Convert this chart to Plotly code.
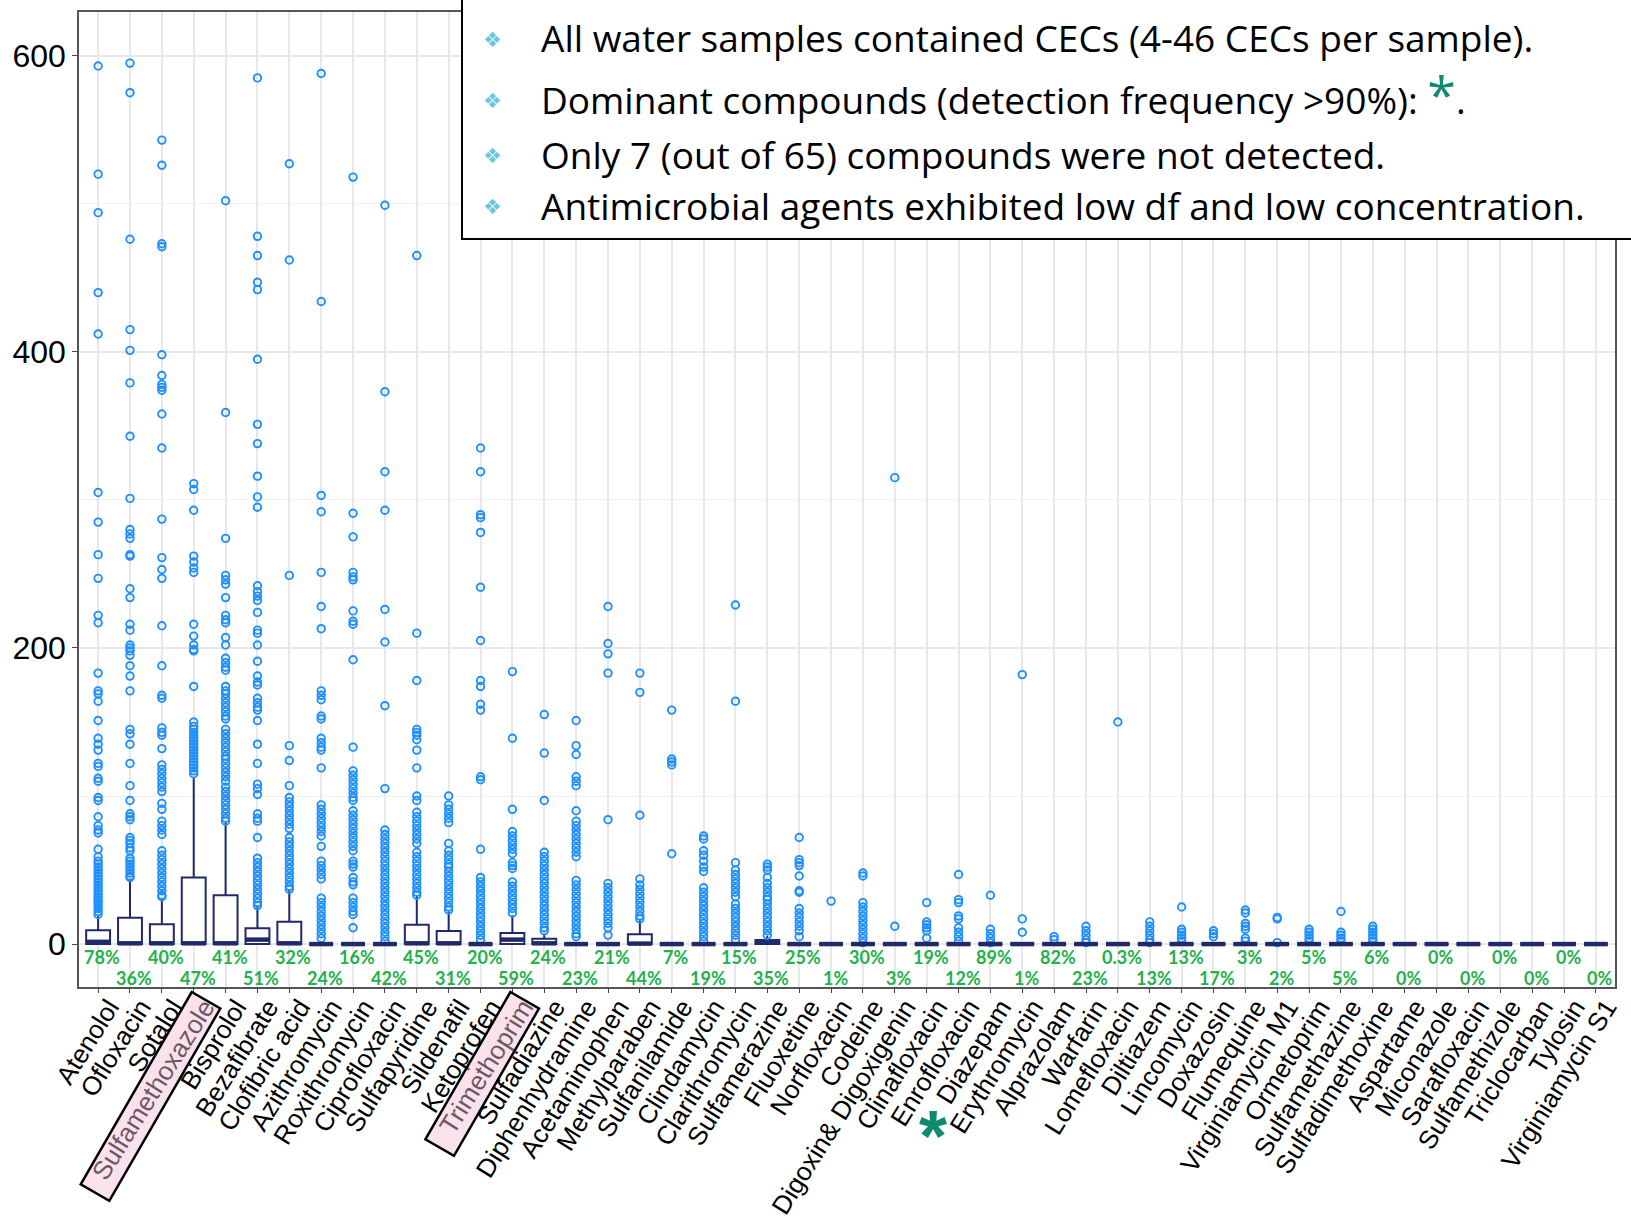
import math
import plotly.graph_objects as go

categories = ["Atenolol", "Ofloxacin", "Sotalol", "Sulfamethoxazole", "Bisprolol", "Bezafibrate",
              "Clofibric acid", "Azithromycin", "Roxithromycin", "Ciprofloxacin", "Sulfapyridine",
              "Sildenafil", "Ketoprofen", "Trimethoprim", "Sulfadiazine", "Diphenhydramine",
              "Acetaminophen", "Methylparaben", "Sulfanilamide", "Clindamycin", "Clarithromycin",
              "Sulfamerazine", "Fluoxetine", "Norfloxacin", "Codeine", "Digoxin& Digoxigenin",
              "Clinafloxacin", "Enrofloxacin", "Diazepam", "Erythromycin", "Alprazolam", "Warfarin",
              "Lomefloxacin", "Diltiazem", "Lincomycin", "Doxazosin", "Flumequine", "Virginiamycin M1",
              "Ormetoprim", "Sulfamethazine", "Sulfadimethoxine", "Aspartame", "Miconazole",
              "Sarafloxacin", "Sulfamethizole", "Triclocarban", "Tylosin", "Virginiamycin S1"]

detection_freq = ["78%", "36%", "40%", "47%", "41%", "51%", "32%", "24%", "16%", "42%", "45%", "31%",
                  "20%", "59%", "24%", "23%", "21%", "44%", "7%", "19%", "15%", "35%", "25%", "1%",
                  "30%", "3%", "19%", "12%", "89%", "1%", "82%", "23%", "0.3%", "13%", "13%", "17%",
                  "3%", "2%", "5%", "5%", "6%", "0%", "0%", "0%", "0%", "0%", "0%", "0%"]

q1 = [0] * 48
median = [1.5, 0.5, 0.5, 0.5, 0.5, 3, 0.5, 0, 0, 0, 0.5, 0.5, 0, 3, 0.5, 0, 0, 0.3, 0, 0, 0, 1,
          0, 0, 0, 0, 0, 0, 0, 0, 0, 0, 0, 0, 0, 0, 0, 0, 0, 0, 0, 0, 0, 0, 0, 0, 0, 0]
q3 = [9.3, 17.8, 13.3, 45, 33, 10.6, 15, 0, 0, 0, 13, 8.8, 0, 7.5, 3.6, 0, 0, 6.6, 0, 0, 0, 2.8,
      0, 0, 0, 0, 0, 0, 0, 0, 0, 0, 0, 0, 0, 0, 0, 0, 0, 0, 0, 0, 0, 0, 0, 0, 0, 0]
lower_fence = [0] * 48
upper_fence = [19.4, 44, 31, 112, 82, 26, 36.5, 0, 0, 0, 33, 22, 0, 19.5, 7, 0, 0, 16, 0, 0, 0, 5.6,
               0, 0, 0, 0, 0, 0, 0, 0, 0, 0, 0, 0, 0, 0, 0, 0, 0, 0, 0, 0, 0, 0, 0, 0, 0, 0]

outliers = [
    [593, 520, 494, 440, 412, 305, 285, 263, 247, 222, 217, 183, 171, 169, 164, 151, 139, 135, 131,
     122, 120, 112, 110, 99, 97, 86, 80, 77, 75, 64, 59, 56, 54, 52, 50, 48, 46, 44, 42, 40, 38, 36,
     34, 32, 30, 28, 26, 24, 22, 20],
    [595, 575, 476, 415, 401, 379, 343, 301, 280, 277, 274, 263, 262, 240, 234, 216, 212, 202, 200,
     198, 195, 188, 181, 171, 145, 142, 135, 122, 107, 97, 88, 86, 84, 72, 70, 68, 65, 63, 58, 56, 54,
     52, 50, 48, 46, 45],
    [543, 526, 473, 471, 398, 384, 378, 376, 374, 358, 335, 287, 261, 253, 247, 215, 188, 168, 166,
     146, 143, 141, 132, 121, 118, 115, 112, 109, 106, 103, 95, 91, 83, 80, 77, 74, 63, 60, 57, 54,
     51, 48, 45, 42, 39, 36, 33, 32],
    [311, 307, 293, 262, 258, 254, 251, 216, 208, 202, 199, 198, 174, 150, 147, 145, 143, 141, 139,
     137, 135, 133, 131, 129, 127, 125, 123, 121, 119, 117, 115],
    [502, 359, 274, 249, 246, 243, 234, 222, 219, 217, 207, 202, 193, 190, 187, 185, 174, 171, 169,
     166, 163, 160, 157, 154, 152, 145, 142, 139, 136, 133, 130, 127, 125, 122, 119, 116, 113, 110,
     106, 103, 100, 97, 94, 91, 88, 85, 83],
    [585, 478, 465, 447, 442, 395, 351, 338, 316, 302, 295, 242, 238, 235, 232, 224, 212, 210, 202,
     191, 181, 177, 175, 166, 163, 160, 158, 151, 135, 122, 108, 105, 101, 88, 85, 83, 72, 58, 55,
     52, 49, 46, 43, 40, 37, 34, 31, 28, 26],
    [527, 462, 249, 134, 124, 107, 99, 96, 93, 90, 87, 84, 81, 78, 72, 69, 66, 63, 60, 57, 54, 51,
     48, 45, 42, 39, 37],
    [588, 434, 303, 292, 251, 228, 213, 171, 168, 165, 154, 152, 139, 136, 133, 131, 119, 94, 91, 88,
     85, 82, 79, 76, 73, 66, 56, 53, 50, 47, 44, 31, 28, 25, 22, 19, 16, 13, 10, 7, 4],
    [518, 291, 275, 251, 248, 246, 225, 218, 216, 192, 133, 117, 114, 111, 108, 105, 102, 99, 97, 90,
     87, 84, 81, 78, 75, 72, 69, 66, 63, 56, 54, 52, 45, 42, 40, 31, 28, 25, 22, 20, 11],
    [499, 373, 319, 293, 226, 204, 161, 105, 77, 74, 71, 68, 65, 62, 59, 56, 53, 50, 47, 44, 41, 38,
     35, 32, 29, 26, 23, 20, 17, 14, 11, 8, 5, 2],
    [465, 210, 178, 145, 143, 141, 138, 131, 119, 100, 97, 89, 86, 83, 80, 77, 74, 71, 68, 62, 59, 56,
     53, 50, 47, 44, 41, 38, 35, 33],
    [100, 94, 91, 88, 85, 82, 68, 63, 60, 57, 54, 52, 49, 46, 43, 40, 37, 34, 31, 28, 25, 23],
    [335, 319, 290, 288, 278, 241, 205, 178, 174, 162, 158, 113, 111, 64, 45, 42, 39, 36, 33, 30, 27,
     24, 21, 18, 15, 12, 9, 6, 3],
    [184, 139, 91, 76, 73, 70, 67, 64, 61, 55, 53, 51, 42, 39, 36, 33, 30, 27, 24, 21],
    [155, 129, 97, 62, 59, 56, 53, 50, 47, 44, 41, 38, 35, 32, 29, 26, 23, 20, 17, 14, 11, 9],
    [151, 134, 128, 113, 110, 107, 90, 83, 80, 77, 74, 71, 68, 65, 62, 59, 43, 40, 37, 34, 31, 28,
     25, 22, 19, 16, 13, 10, 7, 5],
    [228, 203, 196, 183, 84, 41, 38, 35, 32, 29, 26, 23, 20, 17, 14, 11, 6],
    [183, 170, 87, 44, 40, 37, 34, 31, 28, 25, 22, 19, 17],
    [158, 125, 123, 121, 61],
    [73, 71, 63, 60, 56, 52, 49, 38, 35, 32, 29, 26, 23, 20, 17, 14, 11, 8, 5, 2],
    [229, 164, 55, 50, 47, 44, 41, 38, 35, 32, 27, 24, 21, 18, 15, 12, 9, 6, 3],
    [54, 52, 50, 45, 41, 38, 35, 32, 30, 27, 24, 21, 18, 15, 12, 9, 6],
    [72, 57, 55, 53, 46, 36, 35, 24, 21, 18, 15, 12, 9, 5],
    [29],
    [48, 46, 28, 25, 22, 19, 16, 13, 10, 7, 4, 1],
    [315, 12],
    [28, 15, 13, 11, 9, 4],
    [47, 30, 28, 19, 17, 11, 8, 5, 2],
    [33, 10, 7, 4, 1],
    [182, 17, 8],
    [5, 3],
    [12, 9, 6, 3, 1],
    [150],
    [15, 12, 9, 6, 3, 1],
    [25, 10, 8, 6, 4, 2],
    [9, 7, 5],
    [23, 21, 14, 12, 10, 4, 2],
    [18, 17, 1],
    [10, 8, 6, 4, 2],
    [22, 8, 6, 4, 2],
    [12, 10, 8, 6, 4, 2],
    [], [], [], [], [], [], [],
]

y_ticks = [0, 200, 400, 600]
notes = ["All water samples contained CECs (4-46 CECs per sample).",
         "Dominant compounds (detection frequency >90%): <span style='color:#0f8a6e;font-size:52px'>*</span>.",
         "Only 7 (out of 65) compounds were not detected.",
         "Antimicrobial agents exhibited low df and low concentration."]
highlighted = {"Sulfamethoxazole": 222, "Trimethoprim": 170}

# ---------------- layout geometry (pixels) ----------------
W, H = 1631, 1225
L, R, T, B = 79, 1615, 12, 986.7
navy = "#202a6a"
blue = "#1e8fff"
green = "#22b14c"
label_offset = 0.34   # labels hang from the text's top edge (ggplot vjust=1)


def px_x(p):
    return (p - L) / (R - L)


def px_y(p):
    return (B - p) / (B - T)


pos = list(range(len(categories)))
ox, oy = [], []
for p, vals in zip(pos, outliers):
    for v in vals:
        ox.append(p)
        oy.append(v)

fig = go.Figure()
fig.add_trace(go.Scatter(x=ox, y=oy, mode="markers", showlegend=False,
                         marker=dict(symbol="circle-open", size=7.5, color=blue,
                                     line=dict(width=1.9, color=blue))))
fig.add_trace(go.Box(x=pos, q1=q1, median=median, q3=q3, lowerfence=lower_fence,
                     upperfence=upper_fence, boxpoints=False, width=0.75, whiskerwidth=0,
                     fillcolor="white", line=dict(color=navy, width=2), showlegend=False))
fig.add_trace(go.Scatter(x=pos, y=median, mode="markers", showlegend=False, xaxis="x2",
                         marker=dict(symbol="line-ew", size=17, line=dict(width=4.5, color=navy))))

annotations = []
for i, d in enumerate(detection_freq):
    annotations.append(dict(x=pos[i], y=-9 if i % 2 == 0 else -23.2, xref="x", yref="y", text=d,
                            xshift=4, showarrow=False,
                            font=dict(family="Lato", size=18, color=green, weight="bold")))

line_y = [37.5, 93, 154, 205]
bullet_y = [40, 101, 156, 207]
for yy, by_, t in zip(line_y, bullet_y, notes):
    annotations.append(dict(x=px_x(539), y=px_y(yy), xref="paper", yref="paper", text=t,
                            xanchor="left", yanchor="middle", showarrow=False,
                            font=dict(family="Open Sans", size=37, color="black")))
    annotations.append(dict(x=px_x(492), y=px_y(by_), xref="paper", yref="paper", text="❖",
                            xanchor="center", yanchor="middle", showarrow=False,
                            font=dict(family="DejaVu Sans", size=21, color="#6cc7dc")))

annotations.append(dict(x=26.2, y=px_y(1178), xref="x", yref="paper", text="*", showarrow=False,
                        font=dict(family="Liberation Sans", size=72, color="#0f8a6e", weight="bold")))

shapes = [dict(type="rect", xref="paper", yref="paper", x0=px_x(462), x1=px_x(1650),
               y0=px_y(239), y1=px_y(-5), fillcolor="white", line=dict(color="black", width=2),
               layer="above")]

ang = math.radians(60)
dvec = (-math.cos(ang), math.sin(ang))
nvec = (math.sin(ang), math.cos(ang))
step = (R - L) / (len(categories) - 1 + 1.2)
for name, length in highlighted.items():
    idx = categories.index(name)
    tx = L + (0.6 + idx) * step
    ax_, ay_ = tx - 2, B + 5
    bx, by = ax_ + 33 * nvec[0], ay_ + 33 * nvec[1]
    cx, cy = bx + length * dvec[0], by + length * dvec[1]
    dx_, dy_ = ax_ + length * dvec[0], ay_ + length * dvec[1]
    path = "M {} {} L {} {} L {} {} L {} {} Z".format(
        px_x(ax_), px_y(ay_), px_x(bx), px_y(by), px_x(cx), px_y(cy), px_x(dx_), px_y(dy_))
    shapes.append(dict(type="path", xref="paper", yref="paper", path=path,
                       fillcolor="rgba(245,190,215,0.45)", line=dict(color="black", width=2.5),
                       layer="above"))

xr = [-0.6, len(categories) - 0.4]
fig.update_layout(
    width=W, height=H, margin=dict(l=L, r=W - R, t=T, b=H - B, pad=0),
    paper_bgcolor="white", plot_bgcolor="white", showlegend=False,
    annotations=annotations, shapes=shapes,
    xaxis=dict(range=xr, tickvals=[p + label_offset for p in pos], ticktext=categories,
               tickangle=-58, tickfont=dict(family="Liberation Sans", size=26, color="black"),
               ticklabelstandoff=-7, ticks="", showgrid=False, zeroline=False,
               showline=True, linecolor="#555", linewidth=1.5, mirror=True, automargin=False),
    xaxis2=dict(range=xr, overlaying="x", side="bottom", tickvals=pos, showticklabels=False,
                showgrid=True, gridcolor="#e8e8e8", gridwidth=1.5, zeroline=False,
                ticks="outside", ticklen=5, tickcolor="#444", tickwidth=1.3,
                showline=False, automargin=False),
    yaxis=dict(range=[-29, 629.5], tickvals=y_ticks, ticktext=[str(v) for v in y_ticks],
               tickfont=dict(family="Liberation Sans", size=32, color="black"),
               showgrid=True, gridcolor="#e8e8e8", gridwidth=1.5, zeroline=False,
               minor=dict(tickvals=[100, 300, 500], showgrid=True, gridcolor="#f1f1f1",
                          gridwidth=1, ticks=""),
               ticks="outside", ticklen=5, tickcolor="#444", tickwidth=1.3,
               showline=True, linecolor="#555", linewidth=1.5, mirror=True, automargin=False),
)

fig.write_html("out.html")
